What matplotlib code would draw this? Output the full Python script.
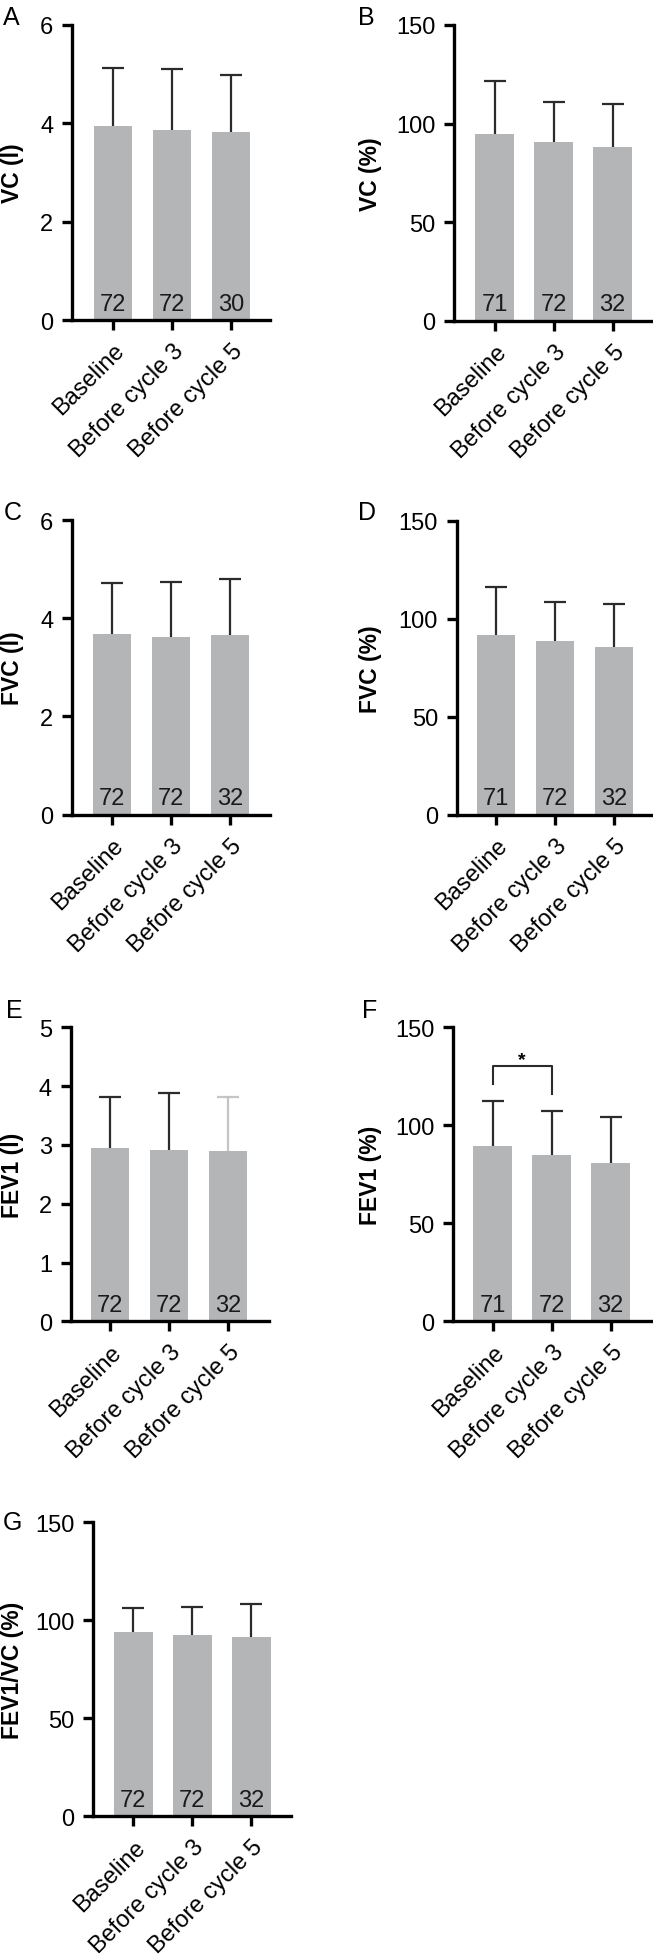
import matplotlib
matplotlib.use("Agg")
import matplotlib.pyplot as plt
import matplotlib.transforms as mtransforms
import numpy as np

plt.rcParams['font.family'] = ['Liberation Sans', 'DejaVu Sans']

categories = ["Baseline", "Before cycle 3", "Before cycle 5"]

vc_l_mean = [3.95, 3.87, 3.83]
vc_l_sd = [1.18, 1.23, 1.15]
vc_l_n = [72, 72, 30]

vc_pct_mean = [94.6, 90.5, 88.0]
vc_pct_sd = [27.1, 20.6, 21.8]
vc_pct_n = [71, 72, 32]

fvc_l_mean = [3.67, 3.62, 3.65]
fvc_l_sd = [1.05, 1.11, 1.15]
fvc_l_n = [72, 72, 32]

fvc_pct_mean = [91.8, 88.5, 85.6]
fvc_pct_sd = [24.4, 20.2, 21.7]
fvc_pct_n = [71, 72, 32]

fev1_l_mean = [2.95, 2.92, 2.90]
fev1_l_sd = [0.86, 0.96, 0.91]
fev1_l_n = [72, 72, 32]

fev1_pct_mean = [89.3, 84.7, 80.9]
fev1_pct_sd = [23.1, 22.4, 23.2]
fev1_pct_n = [71, 72, 32]

ratio_mean = [93.9, 92.5, 91.6]
ratio_sd = [12.5, 14.3, 16.6]
ratio_n = [72, 72, 32]

# significance bracket in panel F (Baseline vs Before cycle 3)
sig_pair = (0, 1)
sig_levels = [121.2, 130.4, 116.1]   # left leg end, bar height, right leg end
sig_text = '*'

W, H = 653, 1958
fig = plt.figure(figsize=(W / 100, H / 100), dpi=100)
fig.patch.set_facecolor('white')

BAR_COLOR = '#b4b5b7'
ERR_COLOR = '#2b2b2b'
SPACING = 59.0
AX_W = 198.0
CAP_HALF = 11.0 / SPACING

panels = [
    dict(letter='A', label='VC (l)', mean=vc_l_mean, sd=vc_l_sd, n=vc_l_n,
         yticks=[0, 2, 4, 6], L=72, T=26, B=321, C0=113, lab_x=12, let_x=3, let_y=25),
    dict(letter='B', label='VC (%)', mean=vc_pct_mean, sd=vc_pct_sd, n=vc_pct_n,
         yticks=[0, 50, 100, 150], L=454, T=26, B=321.7, C0=494.7, lab_x=371, let_x=358, let_y=25),
    dict(letter='C', label='FVC (l)', mean=fvc_l_mean, sd=fvc_l_sd, n=fvc_l_n,
         yticks=[0, 2, 4, 6], L=72, T=521, B=815.7, C0=112, lab_x=12.7, let_x=4, let_y=520),
    dict(letter='D', label='FVC (%)', mean=fvc_pct_mean, sd=fvc_pct_sd, n=fvc_pct_n,
         yticks=[0, 50, 100, 150], L=456.7, T=521.7, B=815.7, C0=496, lab_x=371, let_x=358, let_y=520),
    dict(letter='E', label='FEV1 (l)', mean=fev1_l_mean, sd=fev1_l_sd, n=fev1_l_n,
         yticks=[0, 1, 2, 3, 4, 5], L=70.7, T=1028.3, B=1322.3, C0=110, lab_x=12.7, let_x=6, let_y=1018),
    dict(letter='F', label='FEV1 (%)', mean=fev1_pct_mean, sd=fev1_pct_sd, n=fev1_pct_n,
         yticks=[0, 50, 100, 150], L=453.3, T=1028.3, B=1322.3, C0=492.7, lab_x=371, let_x=362, let_y=1018),
    dict(letter='G', label='FEV1/VC (%)', mean=ratio_mean, sd=ratio_sd, n=ratio_n,
         yticks=[0, 50, 100, 150], L=93.3, T=1523.3, B=1817.3, C0=133.3, lab_x=12.5, let_x=3, let_y=1530),
]

x = np.arange(len(categories))
FS = 17

for i, p in enumerate(panels):
    left = p['L'] / W
    bottom = 1 - p['B'] / H
    height = (p['B'] - p['T']) / H
    width = AX_W / W
    ax = fig.add_axes([left, bottom, width, height])
    ax.set_facecolor('none')
    xl = (p['L'] - p['C0']) / SPACING
    ax.set_xlim(xl, xl + AX_W / SPACING)
    ax.set_ylim(0, p['yticks'][-1])

    ax.bar(x, p['mean'], width=0.66, color=BAR_COLOR, zorder=2)
    mean = np.array(p['mean'])
    top = mean + np.array(p['sd'])
    ecols = [ERR_COLOR] * 3
    if p['letter'] == 'E':
        ecols[2] = '#c4c4c4'
    ax.vlines(x, mean, top, colors=ecols, linewidth=1.6, zorder=1)
    ax.hlines(top, x - CAP_HALF, x + CAP_HALF, colors=ecols, linewidth=1.6, zorder=1)
    for j in range(len(x)):
        ax.annotate(str(p['n'][j]), xy=(x[j], 0), xytext=(0, 7.5),
                    textcoords='offset points', ha='center', va='baseline',
                    fontsize=FS, color='#1a1a1a', zorder=3)

    for s in ['top', 'right']:
        ax.spines[s].set_visible(False)
    for s in ['left', 'bottom']:
        ax.spines[s].set_linewidth(2.4)
        ax.spines[s].set_color('black')
        ax.spines[s].set_capstyle('projecting')
    ax.set_yticks(p['yticks'])
    ax.set_yticklabels([str(t) for t in p['yticks']])
    ax.set_xticks(x)
    ax.set_xticklabels(categories, rotation=45, ha='right', va='center',
                       rotation_mode='anchor')
    ax.tick_params(axis='both', labelsize=FS, width=2.4, length=7.5, color='black')
    ax.tick_params(axis='y', pad=6)
    ax.tick_params(axis='x', pad=12)
    shift = mtransforms.ScaledTranslation(6 / 72, 0, fig.dpi_scale_trans)
    for lab in ax.get_xticklabels():
        lab.set_transform(lab.get_transform() + shift)

    fig.text(p['lab_x'] / W, 1 - (p['T'] + p['B']) / 2 / H, p['label'],
             rotation=90, ha='center', va='center', fontsize=16.5, fontweight='bold')
    fig.text(p['let_x'] / W, 1 - p['let_y'] / H, p['letter'],
             ha='left', va='baseline', fontsize=18)

    if p['letter'] == 'F':
        a, b = sig_pair
        ax.plot([a, a, b, b], [sig_levels[0], sig_levels[1], sig_levels[1], sig_levels[2]],
                color=ERR_COLOR, lw=1.5, zorder=3)
        ax.text((a + b) / 2, sig_levels[1] + 1.0, sig_text, ha='center', va='baseline',
                fontsize=14, fontweight='bold')

fig.savefig('out.png', dpi=100, facecolor='white')
